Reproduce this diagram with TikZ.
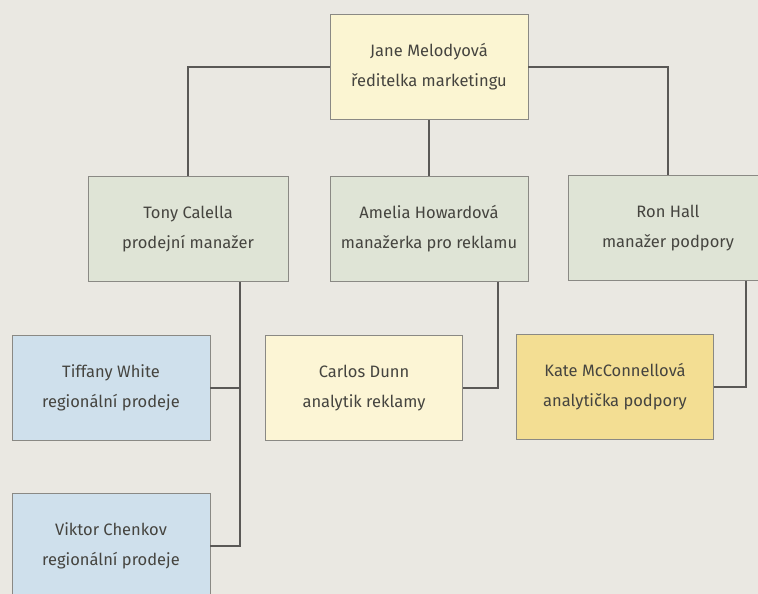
\documentclass[tikz,border=0pt]{standalone}
\usepackage{fontspec}
\setmainfont{Fira Sans}
\usepackage{tikz}

\definecolor{bgcol}{HTML}{EAE8E2}
\definecolor{headcol}{HTML}{FBF5D2}
\definecolor{mgrcol}{HTML}{DFE4D6}
\definecolor{salescol}{HTML}{CFE0EC}
\definecolor{adcol}{HTML}{FCF5D5}
\definecolor{supcol}{HTML}{F3DE93}
\definecolor{edgecol}{HTML}{8A8984}
\definecolor{linkcol}{HTML}{5A5856}
\definecolor{txtcol}{HTML}{45443F}

\begin{document}
\begin{tikzpicture}[
    x=1pt, y=-1pt,
    box/.style={rectangle, draw=edgecol, line width=0.8pt, minimum width=198pt, minimum height=105pt,
        align=center, text=txtcol, font=\fontsize{16.5}{30}\selectfont},
    link/.style={draw=linkcol, line width=1.6pt}
]
\useasboundingbox (0,0) rectangle (758,594);
\fill[bgcol] (0,0) rectangle (758,594);

\node[box, fill=headcol] (jane) at (429,67) {Jane Melodyová\\ředitelka marketingu};
\node[box, fill=mgrcol, minimum width=200pt] (tony) at (188,229) {Tony Calella\\prodejní manažer};
\node[box, fill=mgrcol] (amelia) at (429,229) {Amelia Howardová\\manažerka pro reklamu};
\node[box, fill=mgrcol, minimum width=200pt] (ron) at (668,228) {Ron Hall\\manažer podpory};
\node[box, fill=salescol] (tiffany) at (111,388) {Tiffany White\\regionální prodeje};
\node[box, fill=salescol] (viktor) at (111,546) {Viktor Chenkov\\regionální prodeje};
\node[box, fill=adcol, minimum width=197pt] (carlos) at (364,388) {Carlos Dunn\\analytik reklamy};
\node[box, fill=supcol, minimum width=197pt] (kate) at (615,387) {Kate McConnellová\\analytička podpory};

\coordinate (tonyfoot) at ([xshift=52pt]tony.south);
\coordinate (ameliafoot) at ([xshift=69pt]amelia.south);
\coordinate (ronfoot) at ([xshift=78pt]ron.south);

\draw[link] (jane.west) -| (tony.north);
\draw[link] (jane.south) -- (amelia.north);
\draw[link] (jane.east) -| (ron.north);
\draw[link] (tonyfoot) |- (viktor.east);
\draw[link] (tiffany.east) -- (tiffany.east -| tonyfoot);
\draw[link] (ameliafoot) |- (carlos.east);
\draw[link] (ronfoot) |- (kate.east);
\end{tikzpicture}
\end{document}
